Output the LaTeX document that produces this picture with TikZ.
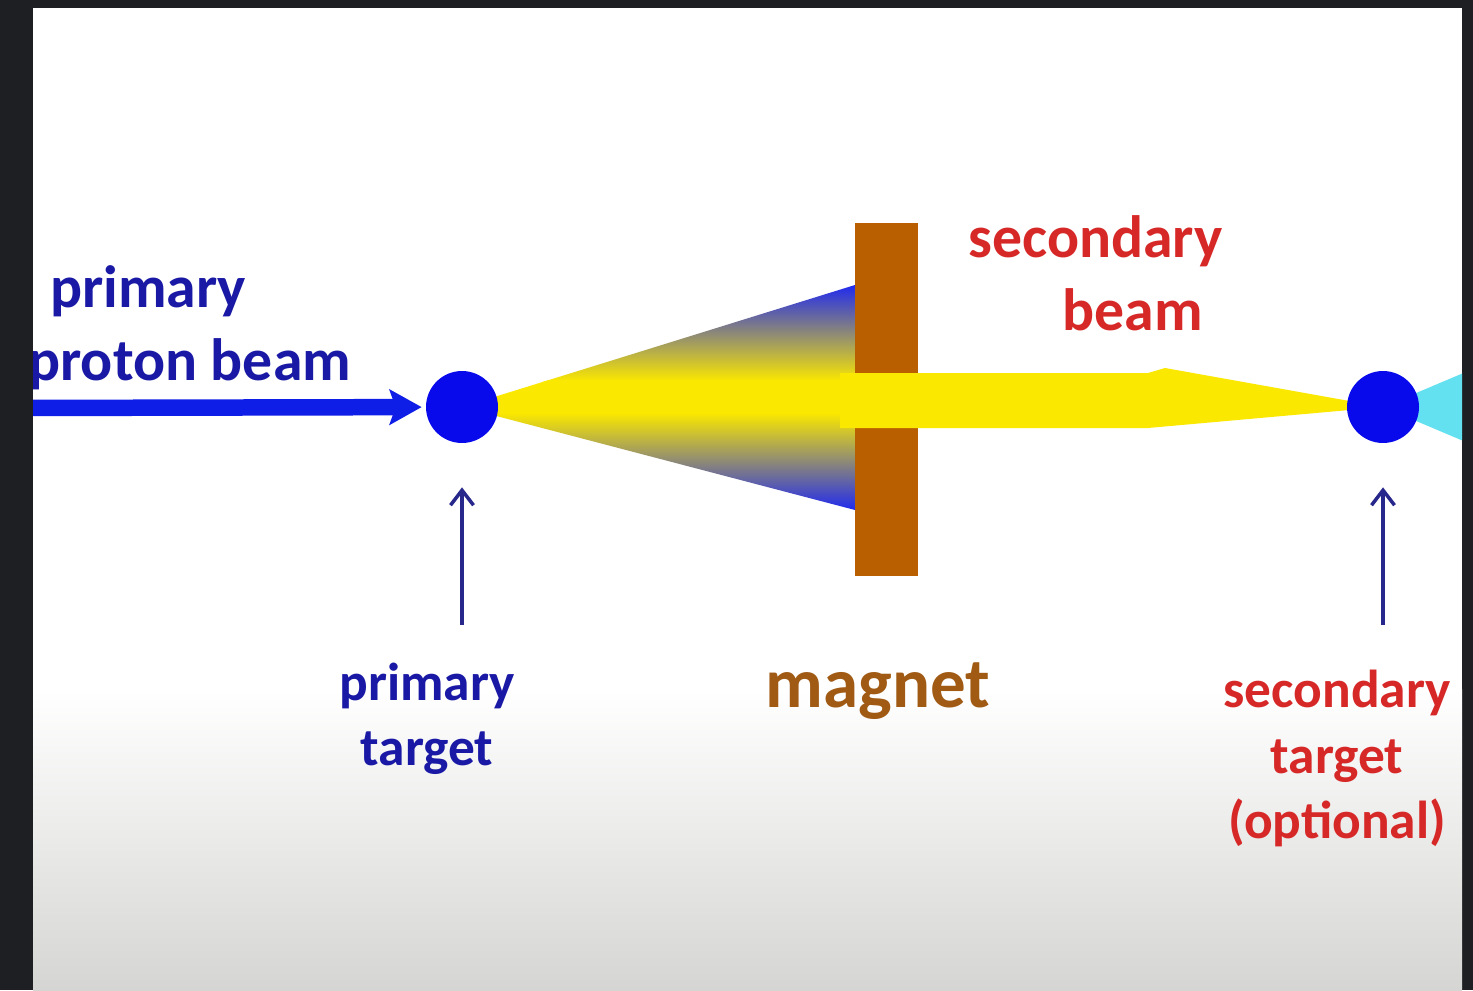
\documentclass[tikz,border=0pt]{standalone}
\usepackage{fontspec}
\setmainfont{Carlito}
\usetikzlibrary{arrows.meta,positioning,calc}
\definecolor{bgdark}{RGB}{30,31,34}
\definecolor{panelgray}{RGB}{213,214,211}
\definecolor{dotblue}{RGB}{8,10,235}
\definecolor{beamblue}{RGB}{15,30,230}
\definecolor{coneblue}{RGB}{30,40,240}
\definecolor{beamyellow}{RGB}{250,232,0}
\definecolor{conecyan}{RGB}{100,225,240}
\definecolor{magbrown}{RGB}{185,95,0}
\definecolor{magtext}{RGB}{160,90,20}
\definecolor{tagblue}{RGB}{40,40,140}
\definecolor{lblblue}{RGB}{25,25,165}
\definecolor{lblred}{RGB}{215,40,40}
\tikzset{
  bldot/.style={circle, fill=dotblue, minimum size=1.44cm, inner sep=0pt},
  blmagnet/.style={rectangle, fill=magbrown, minimum width=1.26cm, minimum height=7.06cm, inner sep=0pt},
  bllabel/.style={font=\bfseries\fontsize{34}{41.5}\selectfont, inner sep=0pt},
  bltaglabel/.style={font=\bfseries\fontsize{30.4}{37}\selectfont, inner sep=0pt, align=center},
  blbeam/.style={-{Stealth[length=0.64cm,width=0.7cm,inset=0.12cm]}, line width=0.33cm, draw=beamblue},
  bltag/.style={-{Straight Barb[length=0.3cm,width=0.46cm]}, line width=0.07cm, draw=tagblue},
}
\begin{document}
\begin{tikzpicture}[x=0.02cm, y=-0.02cm]
  \useasboundingbox (0,0) rectangle (1473,990);
  \fill[bgdark] (0,0) rectangle (1473,990);

  \begin{scope}
    \clip (33,8) rectangle (1462,990);
    % slide panel
    \fill[white] (33,8) rectangle (1462,690);
    \shade[top color=white, bottom color=panelgray] (33,689) rectangle (1462,990);

    \coordinate (ptc) at (462,407);
    \coordinate (stc) at (1383,407);

    % spread after the primary target
    \begin{scope}
      \clip (ptc) -- (855,285) -- (855,510) -- cycle;
      \shade[top color=coneblue, bottom color=beamyellow] (440,284) rectangle (860,381);
      \fill[beamyellow] (440,380) rectangle (860,414);
      \shade[top color=beamyellow, bottom color=coneblue] (440,413) rectangle (860,511);
    \end{scope}
    \node[blmagnet] (magnet) at (886.5,399.5) {};
    % selected beam
    \fill[beamyellow] (840,373) -- (1148,373) -- (1165,368) -- (stc)
      -- (1148,428) -- (840,428) -- cycle;
    \fill[conecyan] (stc) -- (1480,366) -- (1480,448) -- cycle;

    \node[bldot] (ptarget) at (ptc) {};
    \node[bldot] (starget) at (stc) {};

    \coordinate (beam-in) at (20,408);
    \draw[blbeam, shorten >=0.08cm] (beam-in) -- (ptarget);

    \coordinate (pt-foot) at (462,625);
    \coordinate (st-foot) at (1383,625);
    \draw[bltag, shorten >=0.88cm] (pt-foot) -- (ptarget);
    \draw[bltag, shorten >=0.88cm] (st-foot) -- (starget);

    % labels (base = last line)
    \node[bllabel, text=lblblue, align=left, anchor=base west] (pblabel) at (28,380)
      {\hspace*{0.44cm}primary\\proton beam};
    \node[bllabel, text=lblred, align=right, anchor=base east] (sblabel) at (1223,330)
      {secondary\\beam\hspace*{0.4cm}};
    \node[bltaglabel, text=lblblue, anchor=base] (ptlabel) at (427,765) {primary\\target};
    \node[font=\bfseries\fontsize{40.4}{48}\selectfont, inner sep=0pt, text=magtext, anchor=base]
      (maglabel) at (878,707) {magnet};
    \node[bltaglabel, text=lblred, anchor=base] (stlabel) at (1337,838)
      {secondary\\target\\(optional)};
  \end{scope}
\end{tikzpicture}
\end{document}
